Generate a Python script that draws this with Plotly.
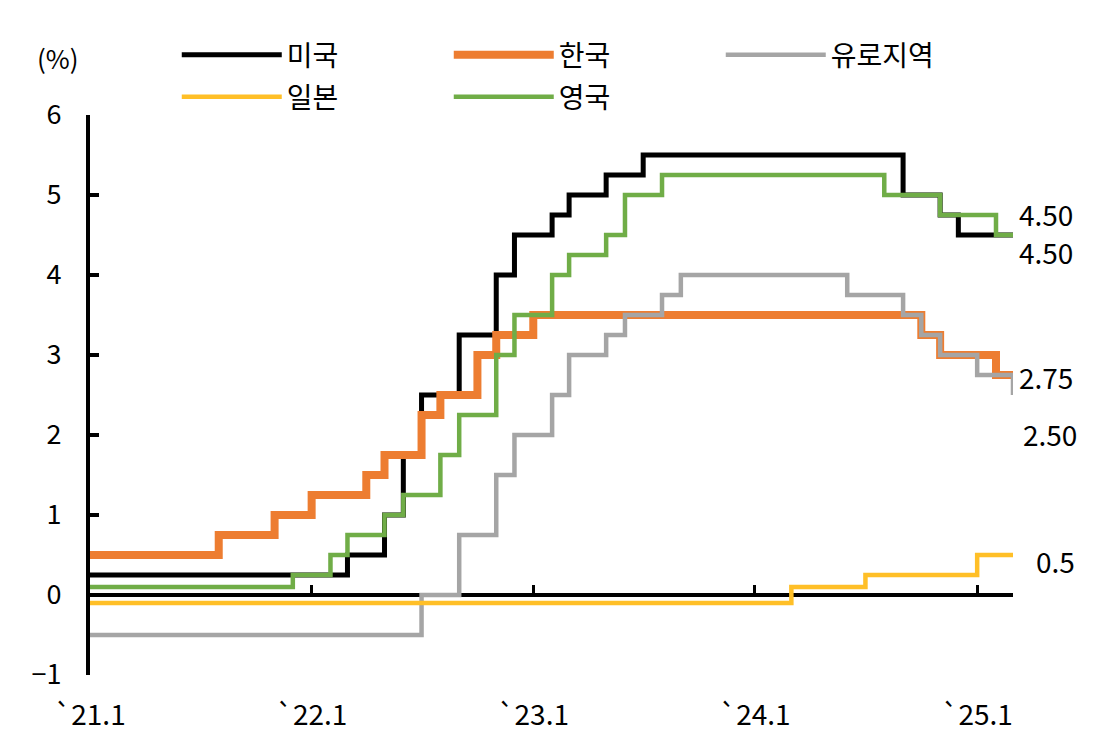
import plotly.graph_objects as go

FONT = "Noto Sans CJK KR"

# ---- data (step-change months, policy rate %) ----
us_dates = ["2021-01-01", "2022-03-01", "2022-05-01", "2022-06-01", "2022-07-01", "2022-09-01",
            "2022-11-01", "2022-12-01", "2023-02-01", "2023-03-01", "2023-05-01", "2023-07-01",
            "2024-09-01", "2024-11-01", "2024-12-01", "2025-03-01"]
us_rates = [0.25, 0.5, 1.0, 1.75, 2.5, 3.25, 4.0, 4.5, 4.75, 5.0, 5.25, 5.5, 5.0, 4.75, 4.5, 4.5]

kr_dates = ["2021-01-01", "2021-08-01", "2021-11-01", "2022-01-01", "2022-04-01", "2022-05-01",
            "2022-07-01", "2022-08-01", "2022-10-01", "2022-11-01", "2023-01-01", "2024-10-01",
            "2024-11-01", "2025-02-01", "2025-03-01"]
kr_rates = [0.5, 0.75, 1.0, 1.25, 1.5, 1.75, 2.25, 2.5, 3.0, 3.25, 3.5, 3.25, 3.0, 2.75, 2.75]

ez_dates = ["2021-01-01", "2022-07-01", "2022-09-01", "2022-11-01", "2022-12-01", "2023-02-01",
            "2023-03-01", "2023-05-01", "2023-06-01", "2023-08-01", "2023-09-01", "2024-06-01",
            "2024-09-01", "2024-10-01", "2024-11-01", "2025-01-01", "2025-03-01"]
ez_rates = [-0.5, 0.0, 0.75, 1.5, 2.0, 2.5, 3.0, 3.25, 3.5, 3.75, 4.0, 3.75, 3.5, 3.25, 3.0, 2.75, 2.5]

jp_dates = ["2021-01-01", "2024-03-01", "2024-07-01", "2025-01-01", "2025-03-01"]
jp_rates = [-0.1, 0.1, 0.25, 0.5, 0.5]

uk_dates = ["2021-01-01", "2021-12-01", "2022-02-01", "2022-03-01", "2022-05-01", "2022-06-01",
            "2022-08-01", "2022-09-01", "2022-11-01", "2022-12-01", "2023-02-01", "2023-03-01",
            "2023-05-01", "2023-06-01", "2023-08-01", "2024-08-01", "2024-11-01", "2025-02-01",
            "2025-03-01"]
uk_rates = [0.1, 0.25, 0.5, 0.75, 1.0, 1.25, 1.75, 2.25, 3.0, 3.5, 4.0, 4.25, 4.5, 5.0, 5.25,
            5.0, 4.75, 4.5, 4.5]

tick_dates = ["2021-01-01", "2022-01-01", "2023-01-01", "2024-01-01", "2025-01-01"]
tick_text = ["`21.1", "`22.1", "`23.1", "`24.1", "`25.1"]

end_labels = ["4.50", "4.50", "2.75", "2.50", "0.5"]

series = [
    ("미국", us_dates, us_rates, "#000000", 5, "legend"),
    ("한국", kr_dates, kr_rates, "#ED7D31", 8, "legend"),
    ("유로지역", ez_dates, ez_rates, "#A5A5A5", 4.5, "legend"),
    ("일본", jp_dates, jp_rates, "#FFBF27", 4.5, "legend2"),
    ("영국", uk_dates, uk_rates, "#70AD47", 4.5, "legend2"),
]

fig = go.Figure()
for name, xs, ys, color, w, lg in series:
    fig.add_trace(go.Scatter(x=xs, y=ys, name=name, mode="lines",
                             line=dict(color=color, width=w, shape="hv"),
                             legend=lg))

# end-value labels
label_specs = [
    (uk_dates[-1], uk_rates[-1], end_labels[0], 21, 4),
    (us_dates[-1], us_rates[-1], end_labels[1], -17, 4),
    (kr_dates[-1], kr_rates[-1], end_labels[2], -2, 4),
    (ez_dates[-1], ez_rates[-1], end_labels[3], -39, 8),
    (jp_dates[-1], jp_rates[-1], end_labels[4], -6, 21),
]
for x, y, t, ys, xs in label_specs:
    fig.add_annotation(x=x, y=y, text=t, showarrow=False, xanchor="left", yanchor="middle",
                       xshift=xs, yshift=ys, font=dict(family=FONT, size=28, color="#000"))

fig.add_annotation(xref="paper", yref="paper", x=-0.035, y=1.0, yshift=58, text="(%)",
                   showarrow=False, xanchor="center", yanchor="middle",
                   font=dict(family=FONT, size=26, color="#000"))

fig.update_layout(
    width=1115, height=749,
    margin=dict(l=82, r=110, t=107, b=82),
    paper_bgcolor="white", plot_bgcolor="white",
    font=dict(family=FONT, size=26, color="#000"),
    showlegend=True,
    legend=dict(orientation="h", x=0.094, y=1.0, xanchor="left", yanchor="middle",
                entrywidth=157, itemwidth=100,
                font=dict(family=FONT, size=28), bgcolor="rgba(0,0,0,0)"),
    legend2=dict(orientation="h", x=0.094, y=1.0, xanchor="left", yanchor="middle",
                 entrywidth=157, itemwidth=100,
                 font=dict(family=FONT, size=28), bgcolor="rgba(0,0,0,0)"),
    xaxis=dict(type="date", range=["2021-01-01", "2025-03-01"], anchor="free", position=1/7,
               showline=True, linecolor="#000", linewidth=3.5, ticks="inside", ticklen=8,
               tickwidth=3, tickcolor="#000", tickvals=tick_dates, ticktext=tick_text,
               ticklabelstandoff=95, showgrid=False, zeroline=False, layer="below traces",
               tickfont=dict(family=FONT, size=28)),
    yaxis=dict(range=[-1, 6], dtick=1, showline=True, linecolor="#000", linewidth=4,
               ticks="inside", ticklen=9, tickwidth=3.5, tickcolor="#000", showgrid=False,
               zeroline=False, layer="below traces", ticklabelstandoff=19,
               tickfont=dict(family=FONT, size=27)),
)
# position legends (rows at ~47px and ~89px from figure top)
fig.update_layout(legend=dict(y=1 + (107 - 47) / 560), legend2=dict(y=1 + (107 - 89) / 560))

fig.write_html("out.html")
